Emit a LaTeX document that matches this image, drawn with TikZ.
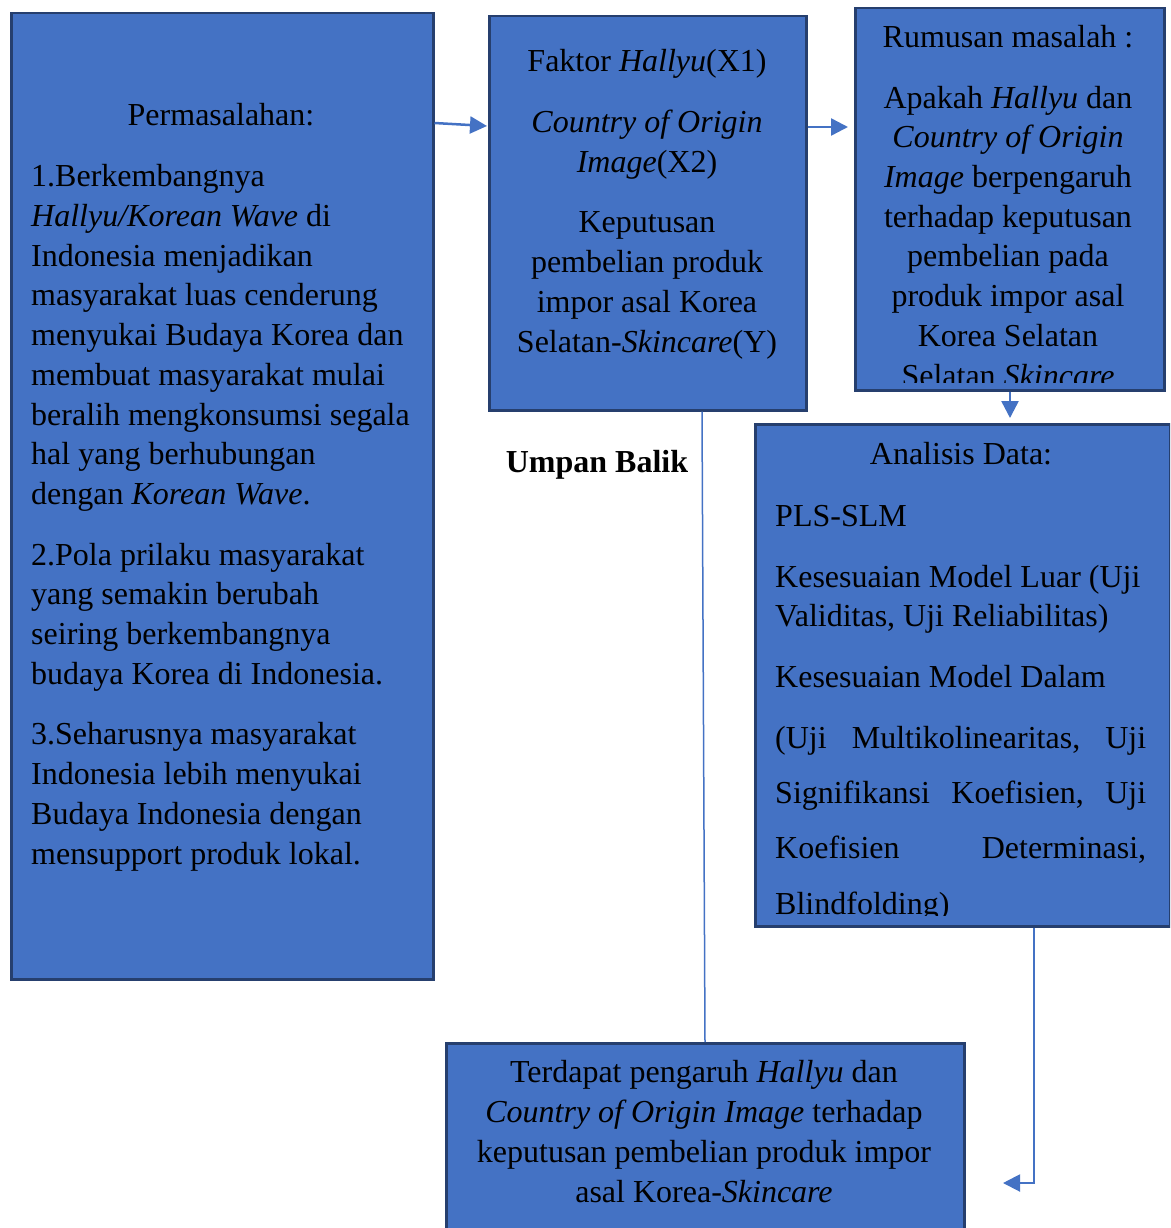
\documentclass[tikz,border=0pt]{standalone}
\usepackage{fontspec}
\setmainfont{Liberation Serif}
\usetikzlibrary{arrows.meta,positioning,calc}
\definecolor{kotakbiru}{HTML}{4472C4}
\definecolor{tepibiru}{HTML}{263F6E}

\begin{document}
\begin{tikzpicture}[x=1pt, y=-1pt,
    kotak/.style={rectangle, draw=tepibiru, fill=kotakbiru, line width=2.5pt, inner sep=0pt, anchor=north west},
    isi/.style={inner sep=0pt, anchor=base, font=\fontsize{32}{39.7}\selectfont},
    panah/.style={draw=kotakbiru, line width=2.5pt, -{Triangle[length=17pt,width=17pt]}}]
    \clip (0,0) rectangle (1170,1228);

    % kotak-kotak
    \node (masalah) [kotak, minimum width=422pt, minimum height=966pt] at (10,12) {};
    \node (faktor) [kotak, minimum width=317pt, minimum height=394pt] at (488,15) {};
    \node (rumusan) [kotak, minimum width=309pt, minimum height=382pt] at (854,7) {};
    \node (analisis) [kotak, minimum width=415pt, minimum height=502pt] at (754,423) {};
    \node (simpulan) [kotak, minimum width=518pt, minimum height=220pt] at (445,1042) {};

    % teks (anchor base = baris terakhir)
    \node (judulmasalah) [isi] at (221,125) {Permasalahan:};
    \node (isimasalah) [isi, anchor=base west, align=left] at (31,864) {1.Berkembangnya\\
        \textit{Hallyu/Korean Wave} di\\
        Indonesia menjadikan\\
        masyarakat luas cenderung\\
        menyukai Budaya Korea dan\\
        membuat masyarakat mulai\\
        beralih mengkonsumsi segala\\
        hal yang berhubungan\\
        dengan \textit{Korean Wave}.\\[21pt]
        2.Pola prilaku masyarakat\\
        yang semakin berubah\\
        seiring berkembangnya\\
        budaya Korea di Indonesia.\\[21pt]
        3.Seharusnya masyarakat\\
        Indonesia lebih menyukai\\
        Budaya Indonesia dengan\\
        mensupport produk lokal.};
    \node (isifaktor) [isi, align=center] at (647,352) {Faktor \textit{Hallyu}(X1)\\[21pt]
        \textit{Country of Origin}\\
        \textit{Image}(X2)\\[21pt]
        Keputusan\\
        pembelian produk\\
        impor asal Korea\\
        Selatan-\textit{Skincare}(Y)};
    \begin{scope}
        \clip (856,9) rectangle (1161,382);
        \node (isirumusan) [isi, align=center] at (1008,386) {Rumusan masalah :\\[21pt]
            Apakah \textit{Hallyu} dan\\
            \textit{Country of Origin}\\
            \textit{Image} berpengaruh\\
            terhadap keputusan\\
            pembelian pada\\
            produk impor asal\\
            Korea Selatan\\
            Selatan \textit{Skincare}};
    \end{scope}
    \node (judulanalisis) [isi] at (961,464) {Analisis Data:};
    \begin{scope}
        \clip (756,425) rectangle (1167,915);
        \node (isianalisis) [isi, anchor=base west, align=left] at (775,914) {PLS-SLM\\[21pt]
            Kesesuaian Model Luar (Uji\\
            Validitas, Uji Reliabilitas)\\[21pt]
            Kesesuaian Model Dalam\\[21pt]
            \hbox to 371pt{(Uji\hfill Multikolinearitas,\hfill Uji}\\[15.6pt]
            \hbox to 371pt{Signifikansi\hfill Koefisien,\hfill Uji}\\[15.6pt]
            \hbox to 371pt{Koefisien\hfill Determinasi,}\\[15.6pt]
            Blindfolding)};
    \end{scope}
    \node (isisimpulan) [isi, align=center] at (704,1202) {Terdapat pengaruh \textit{Hallyu} dan\\
        \textit{Country of Origin Image} terhadap\\
        keputusan pembelian produk impor\\
        asal Korea-\textit{Skincare}};
    \node (umpan) [isi, font=\fontsize{32}{39.7}\selectfont\bfseries] at (597,472) {Umpan Balik};

    % panah
    \coordinate (ujung) at (1003,1183);
    \draw[panah] ($(masalah.north east)+(0,111)$) -- ($(faktor.north west)+(-1,111)$);
    \draw[panah] ($(faktor.north east)+(0,112)$) -- ($(rumusan.north west)+(-6,120)$);
    \draw[panah] ($(rumusan.south west)+(156,0)$) -- ($(analisis.north west)+(256,-5)$);
    \draw[draw=kotakbiru, line width=1.5pt] ($(faktor.south west)+(214,0)$) -- ($(simpulan.north west)+(260,0)$);
    \draw[panah, line width=2pt] ($(analisis.south west)+(280,0)$) |- (ujung);
\end{tikzpicture}
\end{document}
